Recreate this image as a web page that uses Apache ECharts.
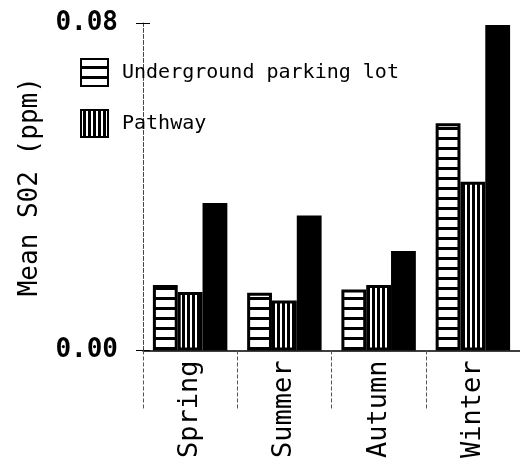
<!DOCTYPE html>
<html>
<head>
<meta charset="utf-8">
<script src="https://cdn.jsdelivr.net/npm/echarts@6/dist/echarts.min.js"></script>
<style>html,body{margin:0;padding:0;background:#fff;}#c{width:520px;height:461px;}</style>
</head>
<body>
<div id="c"></div>
<script>
const categories = ['Spring', 'Summer', 'Autumn', 'Winter'];
const parkingLot = [0.0160, 0.0141, 0.0149, 0.0555];
const pathway = [0.0143, 0.0122, 0.0160, 0.0412];
const outdoor = [0.0360, 0.0330, 0.0243, 0.0795];
const yTicks = [0.00, 0.08];

function hPattern() {
  const c = document.createElement('canvas');
  c.width = 4; c.height = 10;
  const g = c.getContext('2d');
  g.fillStyle = '#fff'; g.fillRect(0, 0, 4, 10);
  g.fillStyle = '#000'; g.fillRect(0, 7, 4, 3);
  return c;
}
function vPattern() {
  const c = document.createElement('canvas');
  c.width = 5; c.height = 4;
  const g = c.getContext('2d');
  g.fillStyle = '#000'; g.fillRect(0, 0, 5, 4);
  g.fillStyle = '#fff'; g.fillRect(0, 0, 2, 4);
  return c;
}

const chart = echarts.init(document.getElementById('c'));
const mono = 'DejaVu Sans Mono';
chart.setOption({
  animation: false,
  backgroundColor: '#fff',
  grid: { left: 143, right: -3, top: 23, bottom: 108 },
  legend: {
    data: ['Underground parking lot', 'Pathway'],
    orient: 'vertical',
    left: 75, top: 53,
    icon: 'rect',
    itemWidth: 27, itemHeight: 27, itemGap: 22,
    textStyle: { fontFamily: mono, fontSize: 20, color: '#000', padding: [0, 0, 0, 9] }
  },
  xAxis: {
    type: 'category',
    data: categories,
    axisLine: { lineStyle: { color: '#000', width: 1.5 } },
    axisTick: { show: true, alignWithLabel: false, length: 60, lineStyle: { color: '#555', type: 'dashed', width: 1 } },
    axisLabel: { rotate: 90, margin: 10, fontFamily: mono, fontSize: 27, color: '#000', interval: 0 }
  },
  yAxis: [{
    type: 'value',
    min: 0, max: 0.08, interval: 0.08,
    name: 'Mean S02 (ppm)',
    nameLocation: 'middle',
    nameRotate: 90,
    nameGap: 100,
    nameTextStyle: { fontFamily: mono, fontSize: 26, color: '#000' },
    axisLine: { show: true, lineStyle: { color: '#444', type: 'dashed', width: 1 } },
    axisTick: { show: true, length: 7, lineStyle: { color: '#000' } },
    splitLine: { show: false },
    axisLabel: {
      margin: 25, fontFamily: mono, fontWeight: 'bold', fontSize: 26, color: '#000',
      formatter: v => v.toFixed(2)
    }
  }, {
    type: 'value', position: 'left', min: 0, max: 0.08, interval: 0.08,
    axisLine: { show: false },
    axisTick: { show: true, inside: true, length: 7, lineStyle: { color: '#000' } },
    axisLabel: { show: false }, splitLine: { show: false }
  }],
  series: [
    {
      name: 'Underground parking lot', type: 'bar', data: parkingLot,
      barGap: '0%', barCategoryGap: '21%',
      itemStyle: { color: { image: hPattern(), repeat: 'repeat' }, borderColor: '#000', borderWidth: 3 }
    },
    {
      name: 'Pathway', type: 'bar', data: pathway,
      itemStyle: { color: { image: vPattern(), repeat: 'repeat' }, borderColor: '#000', borderWidth: 3 }
    },
    {
      name: 'Outdoor', type: 'bar', data: outdoor,
      itemStyle: { color: '#000' }
    }
  ]
});
</script>
</body>
</html>
